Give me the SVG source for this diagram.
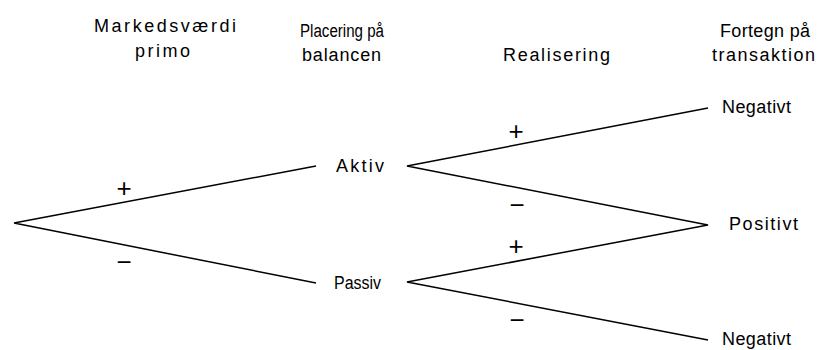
<svg xmlns="http://www.w3.org/2000/svg" width="818" height="350" viewBox="0 0 818 350">
<style>
.t{font-family:"Liberation Sans",Arial,sans-serif;font-size:18px;fill:#000}
.s{font-family:"Liberation Sans",Arial,sans-serif;font-size:26px;fill:#000;text-anchor:middle}
.c{stroke:#000;stroke-width:1.5;fill:none}
</style>
<rect width="818" height="350" fill="#fff"/>
<g id="headers">
<text class="t" x="94" y="32" textLength="142" lengthAdjust="spacing">Markedsværdi</text>
<text class="t" x="135" y="57" textLength="55" lengthAdjust="spacing">primo</text>
<text class="t" x="300" y="37" textLength="84" lengthAdjust="spacingAndGlyphs">Placering på</text>
<text class="t" x="302" y="61" textLength="79" lengthAdjust="spacing">balancen</text>
<text class="t" x="503" y="61" textLength="107" lengthAdjust="spacing">Realisering</text>
<text class="t" x="720" y="37" textLength="90" lengthAdjust="spacing">Fortegn på</text>
<text class="t" x="712" y="61" textLength="103" lengthAdjust="spacing">transaktion</text>
</g>
<g id="connectors">
<path class="c" d="M14,223 L316,166 M14,223 L316,283"/>
<path class="c" d="M708,108 L407,166 L708,225 L407,282 L708,340"/>
</g>
<g id="signs">
<text class="s" x="124" y="197">+</text>
<text class="s" x="124" y="271">−</text>
<text class="s" x="516" y="140">+</text>
<text class="s" x="517" y="214">−</text>
<text class="s" x="516" y="255">+</text>
<text class="s" x="517" y="329">−</text>
</g>
<g id="node-aktiv"><text class="t" x="336" y="172" textLength="48" lengthAdjust="spacing">Aktiv</text></g>
<g id="node-passiv"><text class="t" x="334" y="289" textLength="47" lengthAdjust="spacingAndGlyphs">Passiv</text></g>
<g id="node-negativt-top"><text class="t" x="722" y="113" textLength="69" lengthAdjust="spacing">Negativt</text></g>
<g id="node-positivt"><text class="t" x="729" y="230" textLength="69" lengthAdjust="spacing">Positivt</text></g>
<g id="node-negativt-bottom"><text class="t" x="722" y="345" textLength="69" lengthAdjust="spacing">Negativt</text></g>
</svg>
